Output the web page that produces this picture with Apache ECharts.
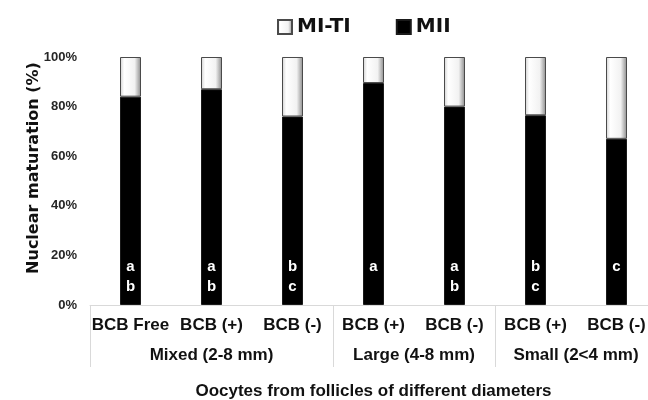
<!DOCTYPE html>
<html><head><meta charset="utf-8">
<script src="https://cdn.jsdelivr.net/npm/echarts@6/dist/echarts.min.js"></script>
<style>html,body{margin:0;padding:0;background:#fff}#c{width:648px;height:400px}</style>
</head><body><div id="c"></div>
<script>
const treatments = ['BCB Free','BCB (+)','BCB (-)','BCB (+)','BCB (-)','BCB (+)','BCB (-)'];
const groups = ['Mixed (2-8 mm)','Large (4-8 mm)','Small (2<4 mm)'];
const groupSizes = [3, 2, 2];
const miiValues = [84, 87, 76, 89.5, 80, 76.5, 67];
const mitiValues = [16, 13, 24, 10.5, 20, 23.5, 33];
const sigLetters = [['a','b'],['a','b'],['b','c'],['a'],['a','b'],['b','c'],['c']];
const yTickLabels = ['0%','20%','40%','60%','80%','100%'];

// group boundaries and centres (in category units)
const boundaries = [0];
const centres = [];
groupSizes.forEach((s, i) => { centres.push(boundaries[i] + s / 2); boundaries.push(boundaries[i] + s); });

const FONT = 'Liberation Sans, Arial, sans-serif';
const chart = echarts.init(document.getElementById('c'), null, {renderer: 'canvas'});
const whiteGrad = new echarts.graphic.LinearGradient(0, 0, 1, 0, [
  {offset: 0, color: '#d0d0d0'}, {offset: 0.2, color: '#ffffff'},
  {offset: 0.7, color: '#f2f2f2'}, {offset: 1, color: '#8a8a8a'}
]);

chart.setOption({
  animation: false,
  backgroundColor: '#fff',
  legend: {
    left: 272, top: 12, itemWidth: 14, itemHeight: 14, itemGap: 45, icon: 'rect',
    data: ['MI-TI', 'MII'],
    textStyle: {fontFamily: 'DejaVu Sans', fontWeight: 'bold', fontSize: 20, color: '#111'}
  },
  grid: {left: 90, top: 57, width: 567, bottom: 95, containLabel: false, outerBoundsMode: 'none'},
  xAxis: [{
    type: 'category', data: treatments, position: 'bottom',
    axisLine: {show: true, lineStyle: {color: '#d9d9d9', width: 1}},
    axisTick: {show: true, length: 62, interval: (i) => boundaries.includes(i), lineStyle: {color: '#d9d9d9'}},
    axisLabel: {interval: 0, margin: 12, fontFamily: FONT, fontWeight: 'bold', fontSize: 17, color: '#111'}
  }, {
    type: 'value', min: 0, max: boundaries[boundaries.length - 1], interval: 0.5, position: 'bottom',
    axisLine: {show: false}, axisTick: {show: false}, splitLine: {show: false},
    axisLabel: {
      margin: 42, fontFamily: FONT, fontWeight: 'bold', fontSize: 17, color: '#111',
      showMinLabel: true, showMaxLabel: true,
      formatter: (v) => { const k = centres.findIndex(c => Math.abs(c - v) < 1e-6); return k >= 0 ? groups[k] : ''; }
    },
    name: 'Oocytes from follicles of different diameters', nameLocation: 'middle', nameGap: 78,
    nameMoveOverlap: false,
    nameTextStyle: {fontFamily: FONT, fontWeight: 'bold', fontSize: 17, color: '#111'}
  }],
  yAxis: {
    type: 'value', min: 0, max: 100, interval: 20,
    axisLine: {show: false}, axisTick: {show: false}, splitLine: {show: false},
    axisLabel: {margin: 13, fontFamily: FONT, fontWeight: 'bold', fontSize: 13, color: '#262626',
      formatter: (v) => yTickLabels[Math.round(v / 20)]},
    name: 'Nuclear maturation (%)', nameLocation: 'middle', nameRotate: 90, nameGap: 48,
    nameMoveOverlap: false,
    nameTextStyle: {fontFamily: 'DejaVu Sans', fontWeight: 'bold', fontSize: 16, color: '#111', padding: [0, 0, 0, 26]}
  },
  series: [{
    name: 'MII', type: 'bar', stack: 'tot', barWidth: 21, xAxisIndex: 0,
    data: miiValues,
    itemStyle: {color: '#000', borderColor: '#1a1a1a', borderWidth: 1},
    label: {
      show: true, position: 'insideBottom', distance: 8,
      fontFamily: FONT, fontWeight: 'bold', fontSize: 15, lineHeight: 20, color: '#fff',
      formatter: (p) => { const l = sigLetters[p.dataIndex]; return l.length > 1 ? l.join('\n') : l[0] + '\n '; }
    }
  }, {
    name: 'MI-TI', type: 'bar', stack: 'tot', barWidth: 21, xAxisIndex: 0,
    data: mitiValues,
    itemStyle: {color: whiteGrad, borderColor: '#4a4a4a', borderWidth: 1}
  }]
});
</script></body></html>
